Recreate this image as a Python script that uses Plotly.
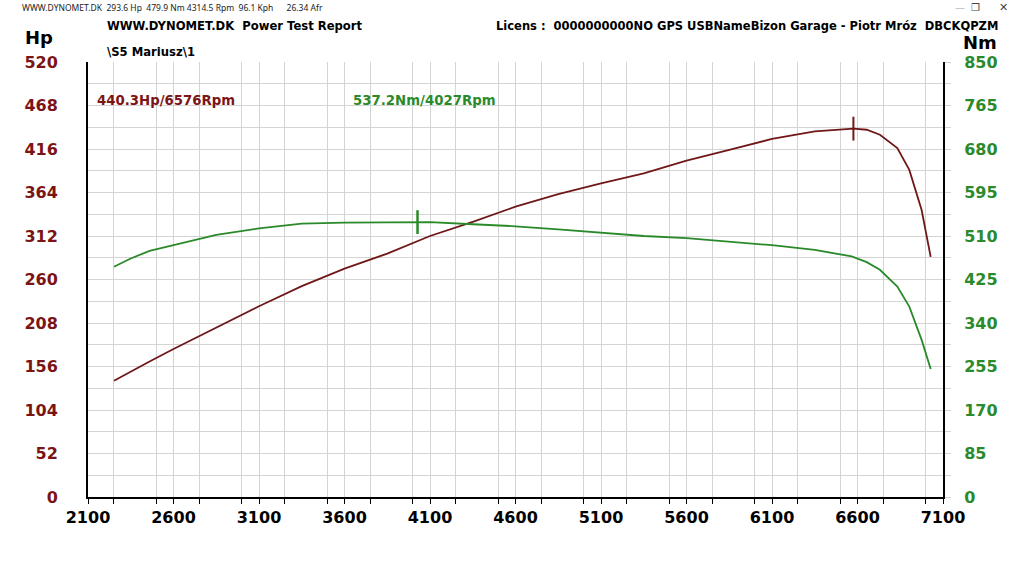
import plotly.graph_objects as go

# power curve (rpm, hp)
rpm_power = [2252, 2350, 2460, 2600, 2850, 3100, 3350, 3600, 3850, 4100, 4350, 4600, 4850,
             5100, 5350, 5600, 5850, 6100, 6350, 6576, 6654, 6731, 6833, 6903, 6975, 7028]
power_hp = [139, 150, 162, 177, 203, 228, 252, 273, 291, 312, 329, 347, 362,
            375, 387, 402, 415, 428, 437, 440.3, 439, 433, 417, 391, 343, 287]

# torque curve (rpm, Nm)
rpm_torque = [2252, 2350, 2460, 2600, 2850, 3100, 3350, 3600, 3850, 4027, 4100, 4350, 4600, 4850,
              5100, 5350, 5600, 5850, 6100, 6350, 6566, 6654, 6731, 6833, 6903, 6975, 7028]
torque_nm = [450, 466, 481, 492, 512, 525, 534, 536, 537, 537.2, 537, 533, 529, 523,
             516, 510, 506, 499, 492, 483, 470, 459, 444, 411, 372, 307, 250]

peak_hp, peak_hp_rpm = 440.3, 6576
peak_nm, peak_nm_rpm = 537.2, 4027

x_ticks = list(range(2100, 7101, 500))
hp_ticks = list(range(0, 521, 52))
nm_ticks = list(range(0, 851, 85))

RED = "#7b1515"
GREEN = "#2b8a2b"
GRID = "#d4d4d4"
FONT = "DejaVu Sans"

# plot area in page pixels
L, R, T, B = 88, 943, 62, 497


def px(x, y):
    return (x - L) / (R - L), (B - y) / (B - T)


fig = go.Figure()
fig.add_trace(go.Scatter(x=rpm_power, y=power_hp, mode="lines",
                         line=dict(color="#701818", width=1.8), yaxis="y"))
fig.add_trace(go.Scatter(x=rpm_torque, y=torque_nm, mode="lines",
                         line=dict(color="#2a8a2a", width=1.8), yaxis="y2"))
fig.add_trace(go.Scatter(x=[peak_hp_rpm], y=[peak_hp], mode="markers", yaxis="y",
                         marker=dict(symbol="line-ns", size=17,
                                     line=dict(width=2, color="#701818"))))
fig.add_trace(go.Scatter(x=[peak_nm_rpm], y=[peak_nm], mode="markers", yaxis="y2",
                         marker=dict(symbol="line-ns", size=17,
                                     line=dict(width=2.5, color="#2a8a2a"))))

texts = [
    (20, 8, "WWW.DYNOMET.DK  293.6 Hp  479.9 Nm 4314.5 Rpm  96.1 Kph      26.34 Afr",
     dict(size=8.5, color="#222222", family="Noto Sans"), "left"),
    (105, 26, "WWW.DYNOMET.DK  Power Test Report",
     dict(size=11.6, color="black", weight="bold"), "left"),
    (105, 52, "\\S5 Mariusz\\1", dict(size=11.6, color="black", weight="bold"), "left"),
    (1000, 26, "Licens :  0000000000NO GPS USBNameBizon Garage - Piotr Mróz  DBCKQPZM",
     dict(size=11.5, color="black", weight="bold"), "right"),
    (23, 38, "Hp", dict(size=18, color="black", weight="bold"), "left"),
    (961, 42, "Nm", dict(size=18, color="black", weight="bold"), "left"),
    (95, 100, f"{peak_hp}Hp/{peak_hp_rpm}Rpm", dict(size=13.3, color=RED, weight="bold"), "left"),
    (351, 100, f"{peak_nm}Nm/{peak_nm_rpm}Rpm", dict(size=13.3, color=GREEN, weight="bold"), "left"),
    (960, 8, "—", dict(size=10, color="#bbbbbb"), "center"),
    (975, 8, "❐", dict(size=10, color="#444444"), "center"),
    (1003, 8, "✕", dict(size=11, color="#444444"), "center"),
]
annotations = []
for x, y, t, f, anchor in texts:
    ax, ay = px(x, y)
    font = dict(family=FONT)
    font.update(f)
    annotations.append(dict(x=ax, y=ay, xref="paper", yref="paper", text=t, showarrow=False,
                            xanchor=anchor, yanchor="middle", font=font))

fig.update_layout(
    width=1024, height=576,
    margin=dict(l=L, r=1024 - R, t=T, b=576 - B),
    paper_bgcolor="white", plot_bgcolor="white",
    showlegend=False,
    font=dict(family=FONT),
    annotations=annotations,
    xaxis=dict(range=[2100, 7100], tickvals=x_ticks, showgrid=True, gridcolor=GRID, gridwidth=1,
               zeroline=False, showline=True, linecolor="black", linewidth=2,
               ticks="outside", ticklen=5, tickcolor="black",
               minor=dict(dtick=250, showgrid=True, gridcolor=GRID, ticks="outside",
                          ticklen=5, tickcolor="black"),
               tickfont=dict(size=16, color="black", weight="bold")),
    yaxis=dict(range=[0, 520], tickvals=hp_ticks, showgrid=True, gridcolor=GRID, gridwidth=1,
               zeroline=False, showline=True, linecolor="black", linewidth=2,
               minor=dict(dtick=26, showgrid=True, gridcolor=GRID),
               ticklabelstandoff=25,
               tickfont=dict(size=16, color=RED, weight="bold")),
    yaxis2=dict(range=[0, 850], tickvals=nm_ticks, overlaying="y", side="right", showgrid=False,
                zeroline=False, showline=True, linecolor="black", linewidth=2,
                ticks="outside", ticklen=6, tickcolor=GRID,
                minor=dict(dtick=42.5, ticks="outside", ticklen=6, tickcolor=GRID),
                ticklabelstandoff=10,
                tickfont=dict(size=16, color=GREEN, weight="bold")),
)

# drop the default body margin so the figure fills the window
fig.write_html("out.html", config={"displayModeBar": False},
               post_script="document.body.style.margin='0';")
